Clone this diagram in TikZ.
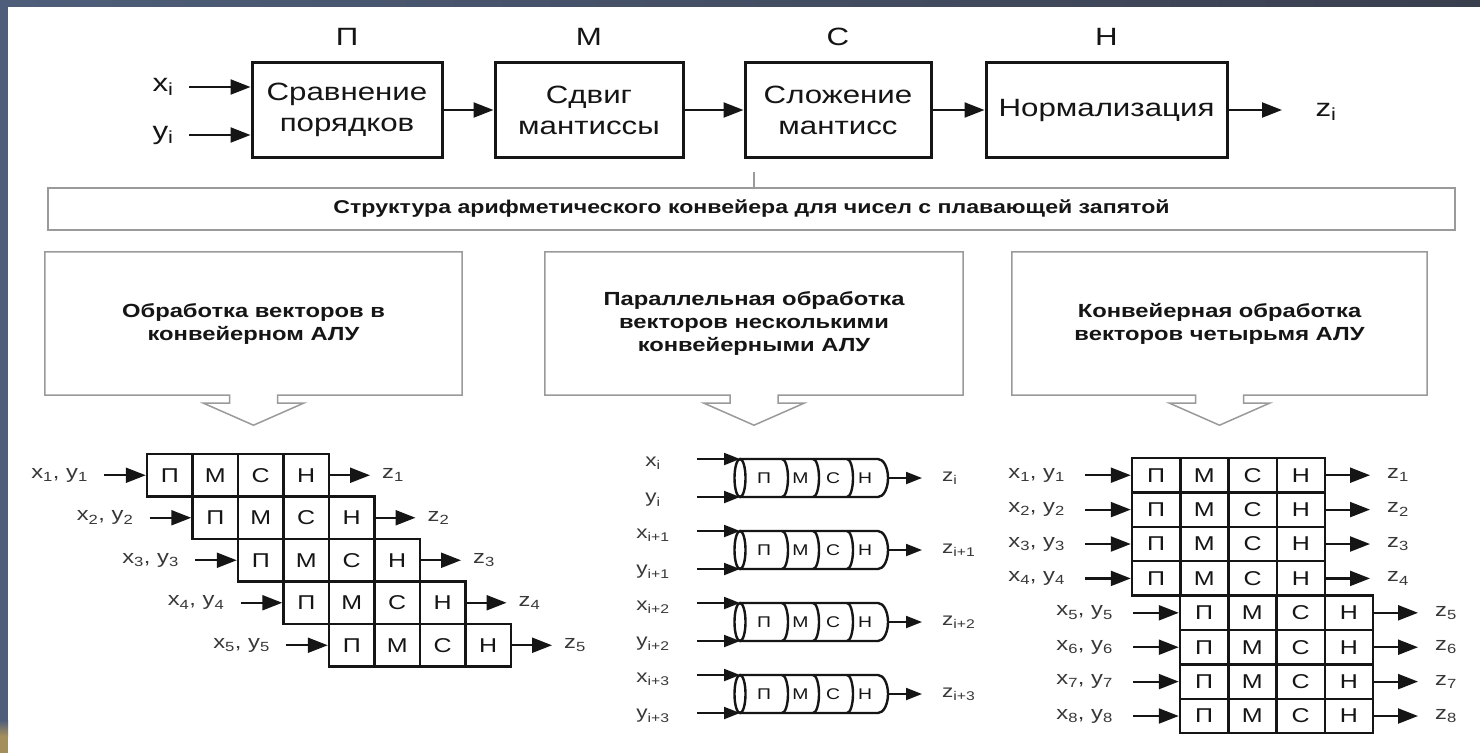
\documentclass[tikz,border=0pt]{standalone}
\usepackage{fontspec}
\setmainfont{Liberation Sans}[FakeStretch=1.25]
\usetikzlibrary{arrows.meta}
\usetikzlibrary{positioning}

\definecolor{slate}{HTML}{4E5E7A}
\definecolor{slatedark}{HTML}{3A3F4E}
\definecolor{sand}{HTML}{A48E5C}
\definecolor{ink}{HTML}{151515}
\definecolor{rim}{HTML}{9A9A9A}

\tikzset{
	stage/.style={draw=ink,line width=3pt,minimum height=95pt,align=center,text=ink,font=\fontsize{25}{31}\selectfont},
	tag/.style={text=ink,font=\fontsize{25}{30}\selectfont},
	pipe/.style={draw=ink,line width=2.2pt,-{Triangle[length=20pt,width=15pt]}},
	thinpipe/.style={draw=ink,line width=2pt,-{Triangle[length=16pt,width=12pt]}},
	bar/.style={draw=rim,line width=1.5pt,minimum width=1407pt,minimum height=42pt,text=ink,font=\bfseries\fontsize{18.5}{22}\selectfont},
	panel/.style={minimum height=143pt,align=center,text=ink,font=\bfseries\fontsize{19}{23}\selectfont},
	panelline/.style={draw=rim,line width=1.5pt},
	cell/.style={draw=ink,line width=2.5pt,inner sep=0pt,text=ink,font=\fontsize{20}{24}\selectfont},
	tube/.style={draw=ink,line width=2.4pt},
	mini/.style={inner sep=0pt,text=ink,font=\fontsize{15.5}{19}\selectfont},
	lbl/.style={text=ink!85,inner sep=3pt,font=\fontsize{19}{22}\selectfont},
	slbl/.style={text=ink!85,inner sep=3pt,font=\fontsize{18}{21}\selectfont}
}

\begin{document}
\begin{tikzpicture}[x=1pt,y=-1pt]
	\useasboundingbox (0,0) rectangle (1480,753);
	% slide background
	\fill[slate] (0,0) rectangle (1480,753);
	\shade[left color=slate,right color=slatedark] (0,0) rectangle (1480,7);
	\fill[white] (8,7) rectangle (1480,753);
	\shade[top color=slate,bottom color=sand] (0,720) rectangle (8,736);
	\fill[sand] (0,736) rectangle (8,753);

	% floating point pipeline
	\node[stage,minimum width=190pt] (cmp) at (347,110) {Сравнение\\порядков};
	\node[stage,minimum width=188pt] (shift) at (589,110) {Сдвиг\\мантиссы};
	\node[stage,minimum width=186pt] (add) at (838,110) {Сложение\\мантисс};
	\node[stage,minimum width=241pt] (norm) at (1106.5,110) {Нормализация};
	\node[tag] (lp) at (cmp.north |- 0,37) {П};
	\node[tag] (lm) at (shift.north |- 0,37) {М};
	\node[tag] (lc) at (add.north |- 0,37) {С};
	\node[tag] (ln) at (norm.north |- 0,37) {Н};
	\node[tag] (xi) at (163,87) {x\textsubscript{i}};
	\node[tag] (yi) at (163,135) {y\textsubscript{i}};
	\node[tag,anchor=west] (zi) at (1312,112) {z\textsubscript{i}};
	\draw[pipe,shorten <=12pt] (xi) -- (xi -| cmp.west);
	\draw[pipe,shorten <=12pt] (yi) -- (yi -| cmp.west);
	\draw[pipe] (cmp) -- (shift);
	\draw[pipe] (shift) -- (add);
	\draw[pipe] (add) -- (norm);
	\draw[pipe,shorten >=30pt] (norm.east) -- (norm.east -| zi.west);

	% caption bar
	\node[bar] (title) at (751.5,209) {Структура арифметического конвейера для чисел с плавающей запятой};
	\coordinate (tick) at (754,172);
	\draw[rim,line width=1.5pt] (tick) -- (tick |- title.north);

	% three panels with hollow arrows
	\node[panel,minimum width=417pt] (pv) at (253.5,323.5) {Обработка векторов в\\конвейерном АЛУ};
	\node[panel,minimum width=418pt] (pp) at (754,323.5) {Параллельная обработка\\векторов несколькими\\конвейерными АЛУ};
	\node[panel,minimum width=415pt] (pq) at (1219.5,323.5) {Конвейерная обработка\\векторов четырьмя АЛУ};
	\foreach \p in {pv,pp,pq}
		\draw[panelline] ([xshift=-24pt]\p.south) -- (\p.south west) |- (\p.north east) -- (\p.south east)
			-- ([xshift=24pt]\p.south) -- ++(0,8) -- ++(26,0) -- ([yshift=-30pt]\p.south)
			-- ++(-50,-22) -- ++(26,0) -- cycle;

	% vectors in one pipelined ALU
	\foreach \r in {1,...,5}{
		\pgfmathsetmacro{\xo}{147+(\r-1)*45.5}
		\pgfmathsetmacro{\yo}{475.25+(\r-1)*42.5}
		\foreach \c/\s in {1/П,2/М,3/С,4/Н}
			\node[cell,minimum width=45.5pt,minimum height=42.5pt] (vec-\r-\c) at ({\xo+(\c-0.5)*45.5},\yo) {\s};
		\node[lbl,anchor=east] (vin\r) at (\xo-56,\yo) {x\textsubscript{\r}, y\textsubscript{\r}};
		\node[lbl,anchor=west] (vout\r) at (\xo+232,\yo) {z\textsubscript{\r}};
		\draw[pipe,shorten <=13pt] (vin\r) -- (vec-\r-1);
		\draw[pipe,shorten >=9pt] (vec-\r-4) -- (vout\r);
	}

	% several pipelined ALUs in parallel
	\foreach \k/\s in {0/i,1/i+1,2/i+2,3/i+3}{
		\pgfmathsetmacro{\ytop}{459+72*\k}
		\pgfmathsetmacro{\ybot}{\ytop+38}
		\pgfmathsetmacro{\ymid}{\ytop+19}
		\draw[tube] (740,\ytop) -- (878,\ytop) arc[start angle=-90,end angle=90,x radius=10,y radius=19] -- (740,\ybot);
		\draw[tube] (740,\ymid) ellipse[x radius=5.5,y radius=19];
		\foreach \sx in {782,813,847}
			\draw[tube] (\sx,\ytop) arc[start angle=-90,end angle=90,x radius=6,y radius=19];
		\foreach \c/\l/\px in {1/П/764,2/М/800.5,3/С/833,4/Н/865}
			\node[mini] (alu-\k-\c) at (\px,\ymid) {\l};
		\coordinate (top-\k) at (740,\ytop);
		\coordinate (bot-\k) at (740,\ybot);
		\coordinate (xs-\k) at (697,\ytop);
		\coordinate (ys-\k) at (697,\ybot);
		\coordinate (end-\k) at (888,\ymid);
		\node[slbl] (ax-\k) at (653,\ytop+4) {x\textsubscript{\s}};
		\node[slbl] (ay-\k) at (653,\ybot+3) {y\textsubscript{\s}};
		\node[slbl,anchor=west] (az-\k) at (939,\ymid) {z\textsubscript{\s}};
		\draw[thinpipe] (xs-\k) -- (top-\k);
		\draw[thinpipe] (ys-\k) -- (bot-\k);
		\draw[thinpipe,shorten >=17pt] (end-\k) -- (az-\k);
	}

	% four pipelined ALUs
	\foreach \r in {1,...,8}{
		\pgfmathsetmacro{\xo}{\r<5 ? 1132 : 1180}
		\pgfmathsetmacro{\yo}{458+(\r-0.5)*34.4}
		\foreach \c/\s in {1/П,2/М,3/С,4/Н}
			\node[cell,minimum width=48.25pt,minimum height=34.4pt] (quad-\r-\c) at ({\xo+(\c-0.5)*48.25},\yo) {\s};
		\node[lbl,anchor=east] (qin\r) at (\xo-64,\yo) {x\textsubscript{\r}, y\textsubscript{\r}};
		\node[lbl,anchor=west] (qout\r) at (\xo+252,\yo) {z\textsubscript{\r}};
		\draw[pipe,shorten <=17pt] (qin\r) -- (quad-\r-1);
		\draw[pipe,shorten >=14pt] (quad-\r-4) -- (qout\r);
	}
\end{tikzpicture}
\end{document}
